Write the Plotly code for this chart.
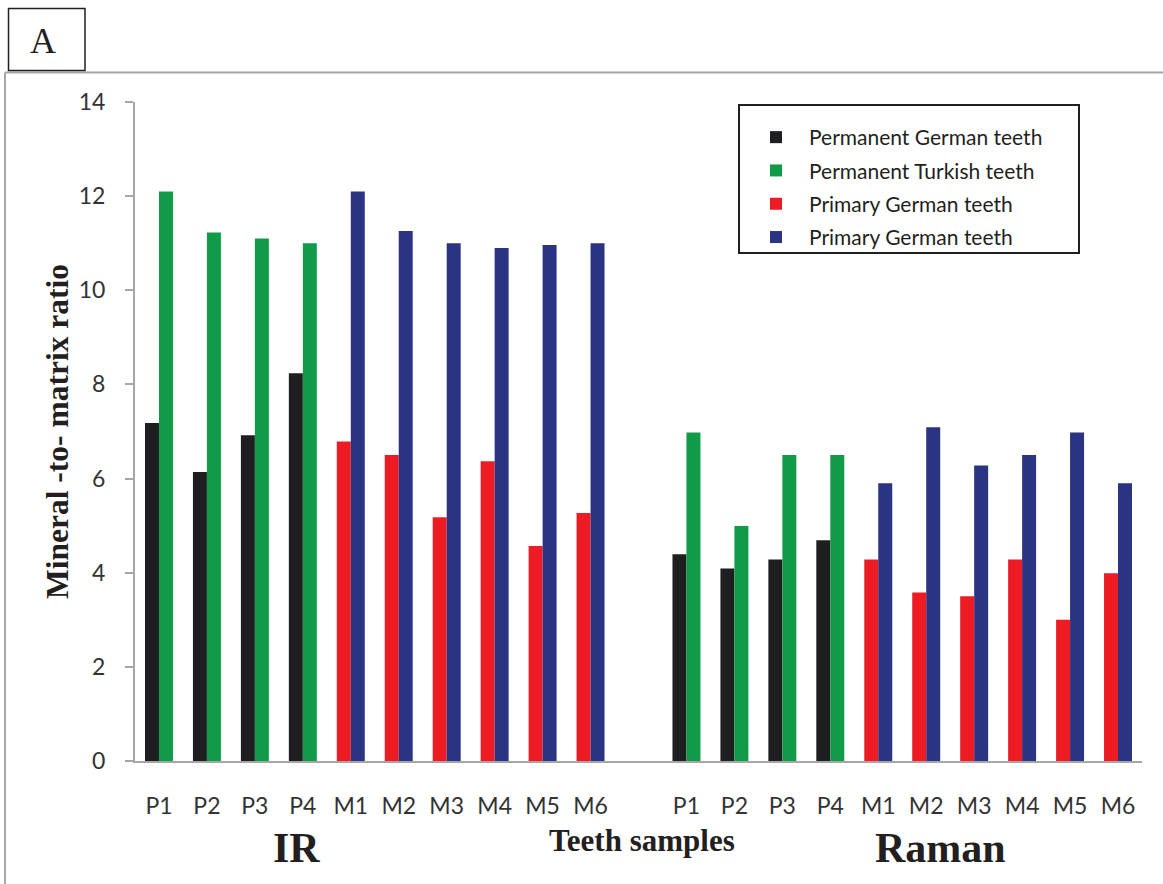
import plotly.graph_objects as go

# ---------------- data ----------------
tick_labels = ["P1", "P2", "P3", "P4", "M1", "M2", "M3", "M4", "M5", "M6"]
ir_positions = list(range(0, 10))
raman_positions = list(range(11, 21))

# IR (left block)
ir_perm_german = [7.18, 6.14, 6.92, 8.24]
ir_perm_turkish = [12.1, 11.23, 11.1, 11.0]
ir_prim_german_red = [6.79, 6.5, 5.18, 6.37, 4.57, 5.27]
ir_prim_german_blue = [12.1, 11.26, 11.0, 10.9, 10.96, 11.0]

# Raman (right block)
ra_perm_german = [4.39, 4.09, 4.28, 4.69]
ra_perm_turkish = [6.98, 4.99, 6.5, 6.5]
ra_prim_german_red = [4.28, 3.58, 3.5, 4.28, 3.0, 3.99]
ra_prim_german_blue = [5.9, 7.09, 6.28, 6.5, 6.98, 5.9]

series_names = ["Permanent German teeth", "Permanent Turkish teeth",
                "Primary German teeth", "Primary German teeth"]
colors = ["#1f1f21", "#119a48", "#ed1c24", "#2b3383"]

# ---------------- layout helpers ----------------
W, H = 1163, 884
L, R, T, B = 135, 21, 102, 123
PW, PH = W - L - R, H - T - B


def fx(px):
    return (px - L) / PW


def fy(py):
    return (H - B - py) / PH


p_pos = ir_positions[:4] + raman_positions[:4]
m_pos = ir_positions[4:] + raman_positions[4:]

fig = go.Figure()
fig.add_trace(go.Bar(x=p_pos, y=ir_perm_german + ra_perm_german, name=series_names[0],
                     marker_color=colors[0], offsetgroup="a", legendgroup="g1"))
fig.add_trace(go.Bar(x=p_pos, y=ir_perm_turkish + ra_perm_turkish, name=series_names[1],
                     marker_color=colors[1], offsetgroup="b", legendgroup="g2"))
fig.add_trace(go.Bar(x=m_pos, y=ir_prim_german_red + ra_prim_german_red, name=series_names[2],
                     marker_color=colors[2], offsetgroup="a", legendgroup="g3"))
fig.add_trace(go.Bar(x=m_pos, y=ir_prim_german_blue + ra_prim_german_blue, name=series_names[3],
                     marker_color=colors[3], offsetgroup="b", legendgroup="g4"))
fig.update_traces(marker_line_width=0)

axis_gray = "#a6a6a6"
tick_font = dict(family="Lato, 'Noto Sans', sans-serif", size=23, color="#333333")
serif = "'Liberation Serif', 'Times New Roman', serif"

fig.update_layout(
    width=W, height=H,
    margin=dict(l=L, r=R, t=T, b=B, pad=0),
    paper_bgcolor="white", plot_bgcolor="white",
    barmode="group", bargap=0.4167, bargroupgap=0,
    xaxis=dict(range=[-0.5, 20.5], tickvals=ir_positions + raman_positions,
               ticktext=tick_labels + tick_labels, showgrid=False, zeroline=False,
               showline=True, linecolor=axis_gray, linewidth=2, ticks="",
               tickfont=tick_font, ticklabelstandoff=23, fixedrange=True),
    yaxis=dict(range=[0, 14], tickvals=list(range(0, 15, 2)), showgrid=False,
               zeroline=False, showline=True, linecolor=axis_gray, linewidth=2,
               ticks="outside", ticklen=8, tickwidth=2, tickcolor=axis_gray,
               tickfont=tick_font, ticklabelstandoff=15, fixedrange=True),
    showlegend=True,
    legend=dict(x=fx(743), y=fy(117), xanchor="left", yanchor="top",
                bgcolor="rgba(0,0,0,0)", borderwidth=0, itemwidth=56,
                traceorder="grouped", tracegroupgap=3,
                font=dict(family="Lato, 'Noto Sans', sans-serif", size=21, color="#231f20")),
    shapes=[
        # outer frame (gray)
        dict(type="line", xref="paper", yref="paper", x0=fx(5), x1=fx(1163), y0=fy(72.5), y1=fy(72.5),
             line=dict(color=axis_gray, width=2)),
        dict(type="line", xref="paper", yref="paper", x0=fx(5), x1=fx(5), y0=fy(72.5), y1=fy(884),
             line=dict(color=axis_gray, width=2)),
        # panel label box
        dict(type="rect", xref="paper", yref="paper", x0=fx(8.5), x1=fx(85), y0=fy(8.5), y1=fy(70.5),
             line=dict(color="#231f20", width=1.5), fillcolor="white"),
        # legend box
        dict(type="rect", xref="paper", yref="paper", x0=fx(739), x1=fx(1079), y0=fy(105), y1=fy(253),
             line=dict(color="#231f20", width=2), fillcolor="rgba(0,0,0,0)"),
    ],
    annotations=[
        dict(text="A", xref="paper", yref="paper", x=fx(42.5), y=fy(41), xanchor="center",
             yanchor="middle", showarrow=False, font=dict(family=serif, size=36, color="#231f20")),
        dict(text="<b>Mineral -to- matrix ratio</b>", xref="paper", yref="paper", x=fx(57), y=fy(432),
             xanchor="center", yanchor="middle", textangle=-90, showarrow=False,
             font=dict(family=serif, size=31.5, color="#231f20")),
        dict(text="<b>IR</b>", xref="paper", yref="paper", x=fx(296), y=fy(848), xanchor="center",
             yanchor="middle", showarrow=False, font=dict(family=serif, size=42, color="#231f20")),
        dict(text="<b>Teeth samples</b>", xref="paper", yref="paper", x=fx(642), y=fy(840),
             xanchor="center", yanchor="middle", showarrow=False,
             font=dict(family=serif, size=31, color="#231f20")),
        dict(text="<b>Raman</b>", xref="paper", yref="paper", x=fx(940), y=fy(848), xanchor="center",
             yanchor="middle", showarrow=False, font=dict(family=serif, size=42, color="#231f20")),
    ],
)

fig.write_html("out.html")
